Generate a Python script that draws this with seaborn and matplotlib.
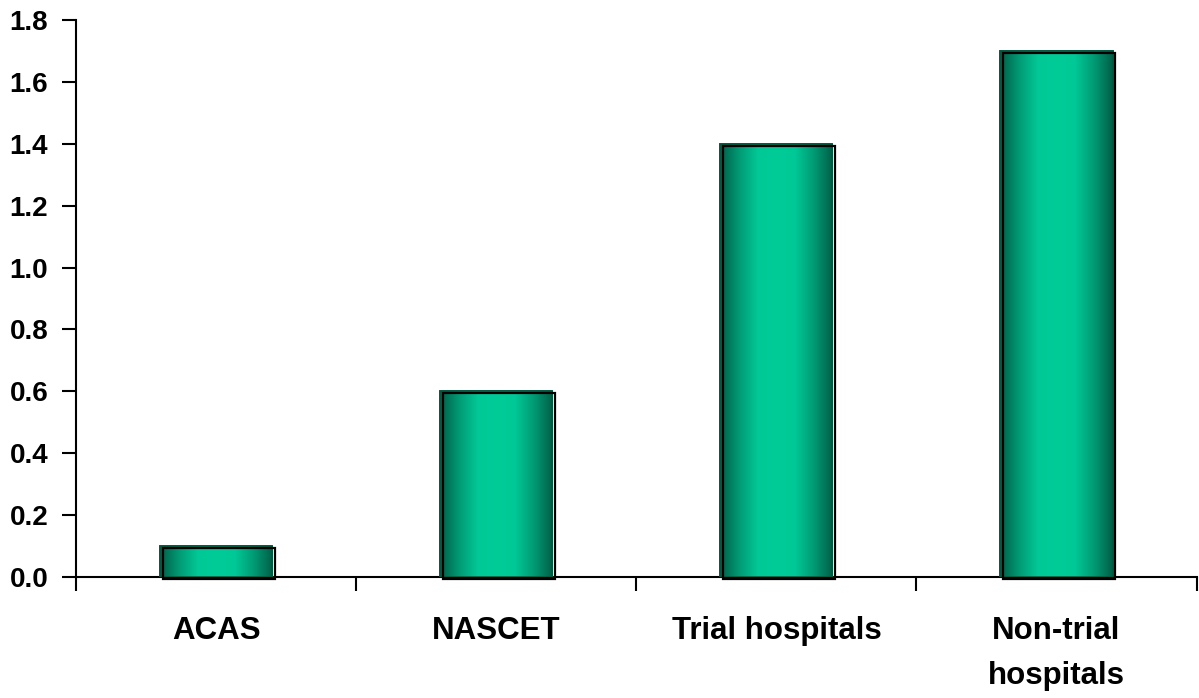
import numpy as np
import pandas as pd
import matplotlib
matplotlib.use("Agg")
import matplotlib.pyplot as plt
import seaborn as sns
from matplotlib.patches import Rectangle
from matplotlib.colors import LinearSegmentedColormap
from matplotlib.transforms import offset_copy

categories = ["ACAS", "NASCET", "Trial hospitals", "Non-trial\nhospitals"]
values = [0.1, 0.6, 1.4, 1.7]
yticks = [0.0, 0.2, 0.4, 0.6, 0.8, 1.0, 1.2, 1.4, 1.6, 1.8]

sns.set_theme(style="white")
plt.rcParams['font.family'] = ['Liberation Sans', 'DejaVu Sans']
plt.rcParams['text.color'] = 'black'
plt.rcParams['xtick.color'] = 'black'
plt.rcParams['ytick.color'] = 'black'

fig = plt.figure(figsize=(11.99, 6.98), dpi=100)
ax = fig.add_axes([0.0634, 0.1734, 0.9346, 0.7979])

df = pd.DataFrame({"cat": categories, "val": values})
sns.barplot(data=df, x="cat", y="val", ax=ax, width=0.4, color="#00C896",
            edgecolor="#00573F", linewidth=1.2, zorder=2)

cmap = LinearSegmentedColormap.from_list(
    "g", ["#005E46", "#009A74", "#00C896", "#00CC98", "#00C896", "#009A74", "#005E46"])
grad = np.linspace(0, 1, 256).reshape(1, -1)

ax.set_ylim(0, 1.8)
ax.set_xlim(-0.5, len(categories) - 0.5)

for p in list(ax.patches):
    x0, y0 = p.get_x(), p.get_y()
    w, h = p.get_width(), p.get_height()
    im = ax.imshow(grad, cmap=cmap, aspect="auto", extent=[x0, x0 + w, y0, y0 + h],
                   zorder=3, interpolation="bilinear")
    im.set_clip_path(p)
    tr = offset_copy(ax.transData, fig=fig, x=2.5, y=-2.0, units="dots")
    ax.add_patch(Rectangle((x0, y0), w, h, facecolor="none", edgecolor="black",
                           linewidth=1.6, transform=tr, zorder=4, clip_on=False))
    ax.add_patch(Rectangle((x0, y0), w, h, facecolor="none", edgecolor="#00573F",
                           linewidth=1.2, zorder=3.5))

ax.set_xlim(-0.5, len(categories) - 0.5)
ax.set_ylim(0, 1.8)
ax.set_yticks(yticks)
ax.set_yticklabels([f"{v:.1f}" for v in yticks], fontsize=20, fontweight="bold", color="black")
ax.set_xticks(range(len(categories)))
ax.set_xticklabels(categories, fontsize=22.5, fontweight="bold", linespacing=1.65, color="black")
ax.set_xticks(np.arange(-0.5, len(categories), 1.0), minor=True)
ax.tick_params(axis="x", which="major", length=0, pad=28, colors="black")
ax.tick_params(axis="x", which="minor", length=10, width=1.5, direction="out", color="black", bottom=True)
ax.tick_params(axis="y", which="major", length=10, width=1.5, direction="out", color="black", left=True, pad=10)
ax.set_xlabel("")
ax.set_ylabel("")
for s in ["top", "right"]:
    ax.spines[s].set_visible(False)
for s in ["left", "bottom"]:
    ax.spines[s].set_color("black")
    ax.spines[s].set_linewidth(1.5)
ax.grid(False)

fig.savefig("out.png", dpi=100, facecolor="white")
